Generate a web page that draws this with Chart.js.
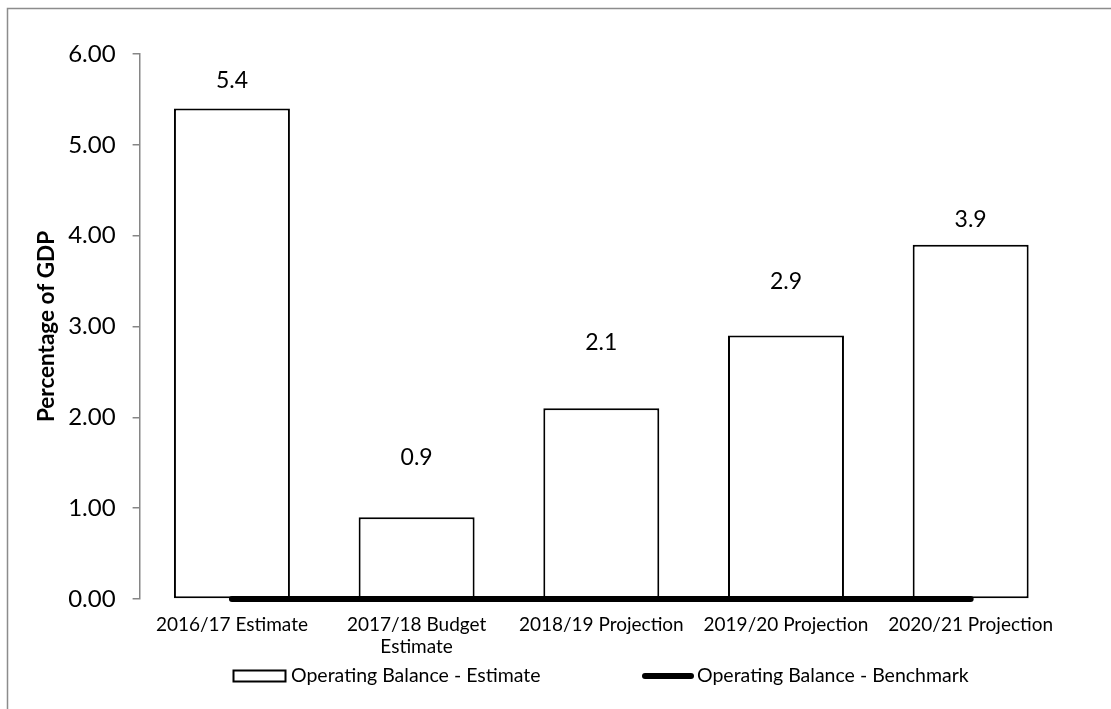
<!DOCTYPE html>
<html>
<head>
<meta charset="utf-8">
<title>Operating Balance</title>
<script src="https://cdn.jsdelivr.net/npm/chart.js@4"></script>
<style>
  html, body { margin: 0; padding: 0; background: #fff; }
  #wrap { width: 1111px; height: 709px; }
</style>
</head>
<body>
<div id="wrap"><canvas id="chart" width="1111" height="709"></canvas></div>
<script>
const categories = ['2016/17 Estimate', ['2017/18 Budget', 'Estimate'], '2018/19 Projection', '2019/20 Projection', '2020/21 Projection'];
const estimate = [5.4, 0.9, 2.1, 2.9, 3.9];
const benchmark = [0, 0, 0, 0, 0];
const yTicks = [0, 1, 2, 3, 4, 5, 6];
const seriesNames = ['Operating Balance - Estimate', 'Operating Balance - Benchmark'];

// how far each value label sits above its bar (px)
const labelLift = [28, 60, 66, 54, 25];

const FONT = 'Lato';
const AXIS_GREY = '#868686';

// white background and the thin outer frame
const framePlugin = {
  id: 'frame',
  beforeDraw(chart) {
    const ctx = chart.ctx;
    ctx.save();
    ctx.fillStyle = '#fff';
    ctx.fillRect(0, 0, chart.width, chart.height);
    ctx.strokeStyle = '#8c8c8c';
    ctx.lineWidth = 1.5;
    ctx.strokeRect(7.5, 8.5, chart.width + 10, chart.height + 10);
    ctx.restore();
  }
};

// value labels above the bars
const valueLabels = {
  id: 'valueLabels',
  afterDatasetsDraw(chart) {
    const ctx = chart.ctx;
    const meta = chart.getDatasetMeta(0);
    ctx.save();
    ctx.font = '23px ' + FONT;
    ctx.fillStyle = '#000';
    ctx.textAlign = 'center';
    ctx.textBaseline = 'middle';
    meta.data.forEach((bar, i) => {
      const v = chart.data.datasets[0].data[i];
      ctx.fillText(v.toFixed(1), bar.x, bar.y - labelLift[i]);
    });
    ctx.restore();
  }
};

// legend row under the axis labels
const bottomLegend = {
  id: 'bottomLegend',
  afterDraw(chart) {
    const ctx = chart.ctx;
    const [bars, line] = chart.data.datasets;
    const y = 676;
    ctx.save();
    ctx.font = '19.5px ' + FONT;
    ctx.textBaseline = 'middle';
    ctx.textAlign = 'left';

    ctx.fillStyle = bars.backgroundColor;
    ctx.fillRect(233.5, 670.5, 52, 11);
    ctx.strokeStyle = bars.borderColor;
    ctx.lineWidth = 2;
    ctx.strokeRect(233.5, 670.5, 52, 11);
    ctx.fillStyle = '#000';
    ctx.fillText(bars.label, 291, y);

    ctx.strokeStyle = line.borderColor;
    ctx.lineWidth = line.borderWidth;
    ctx.lineCap = 'round';
    ctx.beginPath();
    ctx.moveTo(645, y);
    ctx.lineTo(691, y);
    ctx.stroke();
    ctx.fillText(line.label, 697, y);
    ctx.restore();
  }
};

new Chart(document.getElementById('chart'), {
  type: 'bar',
  data: {
    labels: categories,
    datasets: [
      {
        type: 'bar',
        label: seriesNames[0],
        data: estimate,
        backgroundColor: '#ffffff',
        borderColor: '#000000',
        borderWidth: 2,
        borderSkipped: false,
        categoryPercentage: 0.628,
        barPercentage: 1,
        order: 1
      },
      {
        type: 'line',
        label: seriesNames[1],
        data: benchmark,
        borderColor: '#000000',
        borderWidth: 6,
        borderCapStyle: 'round',
        pointRadius: 0,
        fill: false,
        clip: false,
        order: 0
      }
    ]
  },
  options: {
    responsive: false,
    animation: false,
    devicePixelRatio: 1,
    layout: { padding: { top: 54, right: 48, bottom: 0, left: 0 } },
    plugins: {
      legend: { display: false },
      tooltip: { enabled: false }
    },
    scales: {
      x: {
        afterFit: s => { s.height = 110; },
        border: { display: false },
        grid: { display: false, drawTicks: false },
        ticks: {
          padding: 14,
          color: '#000',
          font: { family: FONT, size: 19 },
          maxRotation: 0,
          autoSkip: false
        }
      },
      y: {
        min: 0,
        max: 6,
        afterFit: s => { s.width = 139.6; },
        afterBuildTicks: s => { s.ticks = yTicks.map(v => ({ value: v })); },
        border: { display: true, color: AXIS_GREY, width: 1.5 },
        grid: {
          display: true,
          drawOnChartArea: false,
          drawTicks: true,
          tickLength: 7,
          color: AXIS_GREY,
          lineWidth: 1.5
        },
        ticks: {
          padding: 17,
          color: '#000',
          font: { family: FONT, size: 24 },
          callback: v => Number(v).toFixed(2)
        },
        title: {
          display: true,
          text: 'Percentage of GDP',
          color: '#000',
          font: { family: FONT, size: 22.5, weight: 'bold' },
          padding: { top: 33, bottom: 0 }
        }
      }
    }
  },
  plugins: [framePlugin, valueLabels, bottomLegend]
});
</script>
</body>
</html>
